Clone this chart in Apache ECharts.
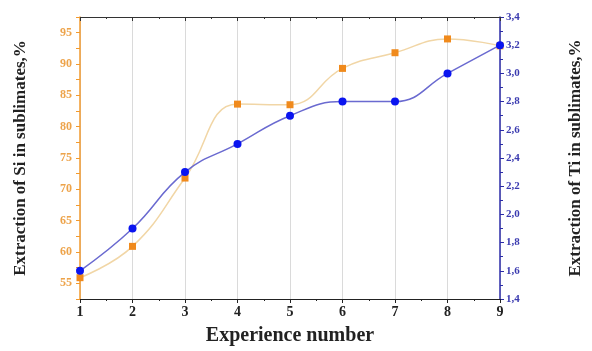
<!DOCTYPE html>
<html>
<head>
<meta charset="utf-8">
<script src="https://cdn.jsdelivr.net/npm/echarts@6/dist/echarts.min.js"></script>
<style>
  html, body { margin: 0; padding: 0; background: #fff; }
  #chart { width: 592px; height: 351px; }
</style>
</head>
<body>
<div id="chart"></div>
<script>
// Experiment numbers and measured extraction values
const experiments = [1, 2, 3, 4, 5, 6, 7, 8, 9];
const siExtraction = [55.9, 60.9, 71.8, 83.6, 83.5, 89.3, 91.8, 94.0, 92.9];
const tiExtraction = [1.6, 1.9, 2.3, 2.5, 2.7, 2.8, 2.8, 3.0, 3.2];

const serif = '"Liberation Serif", "DejaVu Serif", serif';
const orange = '#f29a2e';
const blue = '#2c2ca8';

const chart = echarts.init(document.getElementById('chart'), null, { renderer: 'canvas' });

chart.setOption({
  animation: false,
  backgroundColor: '#fff',
  grid: { left: 80, right: 78, top: 17, bottom: 44, containLabel: false },
  xAxis: [
    {
      type: 'value', min: 1, max: 9, interval: 1, position: 'bottom',
      name: 'Experience number', nameLocation: 'middle', nameGap: 27,
      nameTextStyle: { fontFamily: serif, fontWeight: 'bold', fontSize: 20, color: '#222' },
      axisLine: { lineStyle: { color: '#222', width: 1.2 } },
      axisTick: { show: true, length: 4, lineStyle: { color: '#222' } },
      minorTick: { show: true, splitNumber: 2, length: 2, lineStyle: { color: '#222' } },
      axisLabel: { fontFamily: serif, fontWeight: 'bold', fontSize: 14, color: '#222', margin: 6 },
      splitLine: { show: true, lineStyle: { color: '#dadada', width: 1 } }
    },
    {
      type: 'value', min: 1, max: 9, interval: 1, position: 'top',
      axisLine: { lineStyle: { color: '#333', width: 1.2 } },
      axisTick: { show: true, inside: true, length: 4, lineStyle: { color: '#333' } },
      minorTick: { show: true, splitNumber: 2, length: 2, lineStyle: { color: '#333' } },
      axisLabel: { show: false },
      splitLine: { show: false }
    }
  ],
  yAxis: [
    {
      type: 'value', min: 52.5, max: 97.5, interval: 2.5, position: 'left',
      name: 'Extraction of Si in sublimates,%', nameLocation: 'middle', nameGap: 51, nameRotate: 90,
      nameTextStyle: { fontFamily: serif, fontWeight: 'bold', fontSize: 17, color: '#222' },
      axisLine: { show: true, lineStyle: { color: orange, width: 1.5 } },
      axisTick: { show: true, length: 4, lineStyle: { color: orange } },
      axisLabel: {
        fontFamily: serif, fontWeight: 'bold', fontSize: 12, color: '#eda34a', margin: 8,
        formatter: v => (Math.abs(v % 5) < 1e-6 ? String(Math.round(v)) : '')
      },
      splitLine: { show: false }
    },
    {
      type: 'value', min: 1.4, max: 3.4, interval: 0.2, position: 'right',
      name: 'Extraction of Ti in sublimates,%', nameLocation: 'middle', nameGap: 67, nameRotate: 90,
      nameTextStyle: { fontFamily: serif, fontWeight: 'bold', fontSize: 17, color: '#222' },
      axisLine: { show: true, lineStyle: { color: blue, width: 1.5 } },
      axisTick: { show: true, length: 4, lineStyle: { color: blue } },
      minorTick: { show: true, splitNumber: 2, length: 3, lineStyle: { color: blue } },
      axisLabel: {
        fontFamily: serif, fontWeight: 'bold', fontSize: 11, color: '#3b3bb0', margin: 6,
        formatter: v => v.toFixed(1).replace('.', ',')
      },
      splitLine: { show: false }
    }
  ],
  series: [
    {
      name: 'Si', type: 'line', xAxisIndex: 0, yAxisIndex: 0, smooth: 0.45,
      data: experiments.map((x, i) => [x, siExtraction[i]]),
      symbol: 'rect', symbolSize: 7,
      itemStyle: { color: '#f08a1c' },
      lineStyle: { color: '#f1d6a6', width: 1.5 },
      z: 2
    },
    {
      name: 'Ti', type: 'line', xAxisIndex: 0, yAxisIndex: 1, smooth: 0.45,
      data: experiments.map((x, i) => [x, tiExtraction[i]]),
      symbol: 'circle', symbolSize: 8,
      itemStyle: { color: '#0a14f0' },
      lineStyle: { color: '#6a6ad0', width: 1.5 },
      z: 3
    }
  ]
});
</script>
</body>
</html>
